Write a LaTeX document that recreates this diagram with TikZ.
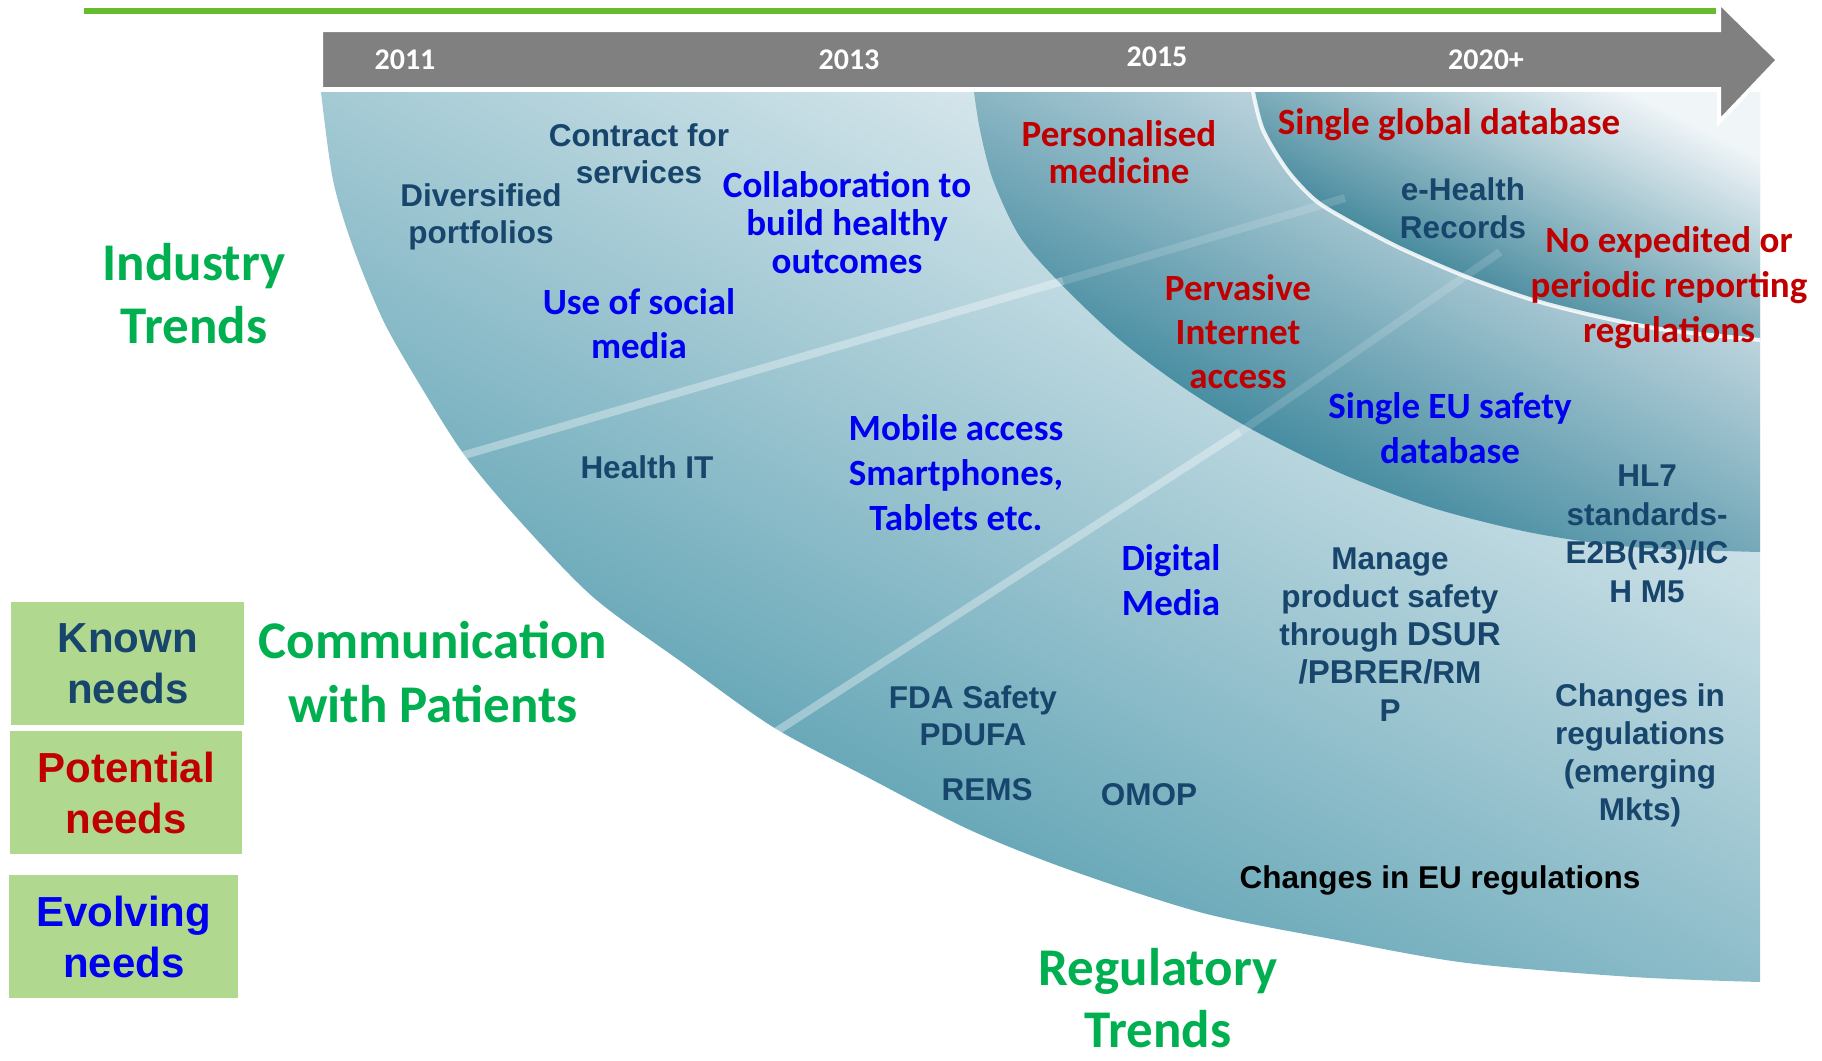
\documentclass[tikz,border=0pt]{standalone}
\usepackage{fontspec}
\setmainfont{Carlito}
\newfontfamily\calfont{Carlito}
\newfontfamily\arifont{Liberation Sans}
\definecolor{txtnavy}{HTML}{17456B}
\definecolor{txtblue}{HTML}{0000F0}
\definecolor{txtred}{HTML}{C00000}
\definecolor{txtgreen}{HTML}{00B050}
\definecolor{topgreen}{HTML}{66BB2E}
\definecolor{barcol}{HTML}{808080}
\definecolor{legfill}{HTML}{B0D88E}
\definecolor{outD}{RGB}{66,146,166}
\definecolor{outM}{RGB}{152,197,208}
\definecolor{outL}{RGB}{240,245,248}
\definecolor{midD}{RGB}{20,110,135}
\definecolor{midM}{RGB}{108,172,189}
\definecolor{midL}{RGB}{235,240,245}
\definecolor{inD}{RGB}{10,100,125}
\definecolor{inM}{RGB}{75,148,168}
\definecolor{inL}{RGB}{240,245,248}
\begin{document}
\begin{tikzpicture}[x=1pt,y=-1pt,
  cal/.style={font=\calfont\bfseries\fontsize{37}{#1}\selectfont, align=center, inner sep=0pt, anchor=base},
  cal/.default=44,
  ari/.style={font=\arifont\bfseries\fontsize{31.5}{#1}\selectfont, align=center, inner sep=0pt, anchor=base, text=txtnavy},
  ari/.default=38,
  ttl/.style={font=\calfont\bfseries\fontsize{53}{#1}\selectfont, align=center, inner sep=0pt, anchor=base, text=txtgreen},
  ttl/.default=63,
  yr/.style={font=\calfont\bfseries\fontsize{30}{36}\selectfont, inner sep=0pt, anchor=base, text=white},
  legbox/.style={fill=legfill, draw=none, font=\arifont\bfseries\fontsize{42}{51}\selectfont, align=center, inner sep=0pt, anchor=north west},
  ray/.style={draw=white, line width=8pt, line cap=butt},
]
\useasboundingbox (0,0) rectangle (1822,1060);

% top green line
\coordinate (gl1) at (84,11);
\coordinate (gl2) at (1716,11);
\draw[topgreen, line width=5.5pt] (gl1) -- (gl2);

% outer fan
\shade[top color=outL, middle color=outM, bottom color=outD, shading angle=-27]
  plot[smooth] coordinates {(321,92) (333,180) (353,247) (383,320) (417,380) (463,453) (517,518) (593,597) (683,663) (773,727) (867,777) (970,830) (1070,870) (1203,913) (1337,940) (1467,963) (1633,977) (1760,982)}
  -- (1760,92) -- cycle;

% middle band
\shade[top color=midL, middle color=midM, bottom color=midD, shading angle=-27]
  plot[smooth] coordinates {(974,92) (980,130) (993,180) (1020,237) (1060,283) (1120,340) (1187,390) (1253,430) (1340,473) (1433,508) (1533,533) (1633,547) (1760,552)}
  -- (1760,92) -- cycle;

% inner band
\shade[top color=inL, middle color=inM, bottom color=inD, shading angle=-27]
  plot[smooth] coordinates {(1253,92) (1263,130) (1287,170) (1315,200) (1347,220) (1400,248) (1467,277) (1533,300) (1600,317) (1667,330) (1760,340)}
  -- (1760,92) -- cycle;
\draw[white, opacity=0.85, line width=4pt]
  plot[smooth] coordinates {(1253,92) (1263,130) (1287,170) (1315,200) (1347,220) (1400,248) (1467,277) (1533,300) (1600,317) (1667,330) (1760,340)};

% light rays
\begin{scope}
\clip plot[smooth] coordinates {(321,92) (333,180) (353,247) (383,320) (417,380) (463,453) (517,518) (593,597) (683,663) (773,727) (867,777) (970,830) (1070,870) (1203,913) (1337,940) (1467,963) (1633,977) (1760,982)}
  -- (1760,92) -- cycle;
\coordinate (r1a) at (430,465);
\coordinate (r1b) at (1063,281);
\coordinate (r1c) at (1345,198);
\coordinate (r2a) at (760,742);
\coordinate (r2b) at (1240,432);
\coordinate (r2c) at (1500,252);
\draw[ray, opacity=0.35] (r1a) -- (r1b);
\draw[ray, opacity=0.15] (r1b) -- (r1c);
\draw[ray, opacity=0.35] (r2a) -- (r2b);
\draw[ray, opacity=0.15] (r2b) -- (r2c);
\end{scope}

% timeline arrow
\draw[fill=barcol, draw=white, line width=4pt, line join=miter]
  (321,30) -- (1719,30) -- (1719,2) -- (1778,60) -- (1719,122) -- (1719,89) -- (321,89) -- cycle;
\node[yr] (y2011) at (405,69) {2011};
\node[yr] (y2013) at (849,69) {2013};
\node[yr] (y2015) at (1157,66) {2015};
\node[yr] (y2020) at (1486,69) {2020+};

% Calibri texts (anchor = baseline of the last line)
\node[cal=38, text=txtblue] (collab) at (847,273) {Collaboration to\\build healthy\\outcomes};
\node[cal=44, text=txtblue] (social) at (639,358) {Use of social\\media};
\node[cal=45, text=txtblue] (mobile) at (956,530) {Mobile access\\Smartphones,\\Tablets etc.};
\node[cal=37, text=txtred] (personal) at (1119,183) {Personalised\\medicine};
\node[cal=44, text=txtred] (pervasive) at (1238,388) {Pervasive\\Internet\\access};
\node[cal, text=txtred] (global) at (1449,134) {Single global database};
\node[cal=45, text=txtred] (noexp) at (1669,342) {No expedited or\\periodic reporting\\regulations};
\node[cal=45, text=txtblue] (singleeu) at (1450,463) {Single EU safety\\database};
\node[cal=45, text=txtblue] (digital) at (1171,615) {Digital\\Media};

% Arial texts
\node[ari=37] (contract) at (639,183) {Contract for\\services};
\node[ari=37] (divers) at (481,243) {Diversified\\portfolios};
\node[ari] (healthit) at (647,478) {Health IT};
\node[ari=38] (ehealth) at (1463,238) {e-Health\\Records};
\node[ari=38.5] (hl7) at (1647,602) {HL7\\standards-\\E2B(R3)/IC\\H M5};
\node[ari=38] (manage) at (1390,721) {Manage\\product safety\\through {\fontsize{33}{38}\selectfont DSUR}\\{\fontsize{33}{38}\selectfont /PBRER/}RM\\P};
\node[ari=37] (fda) at (973,745) {FDA Safety\\PDUFA};
\node[ari] (rems) at (987,800) {REMS};
\node[ari] (omop) at (1149,805) {OMOP};
\node[ari=37.7] (chgem) at (1640,820) {Changes in\\regulations\\(emerging\\Mkts)};
\node[ari, text=black] (chgeu) at (1440,888) {Changes in EU regulations};

% titles
\node[ttl=63] (industry) at (194,343) {Industry\\Trends};
\node[ttl=64] (comm) at (433,722) {Communication\\with Patients};
\node[ttl=62] (regul) at (1158,1047) {Regulatory\\Trends};

% legend
\node[legbox, minimum width=233pt, minimum height=123pt, text=txtnavy] (known) at (11,602) {Known\\needs};
\node[legbox, minimum width=232pt, minimum height=123pt, text=txtred] (potential) at (10,731) {Potential\\needs};
\node[legbox, minimum width=229pt, minimum height=123pt, text=txtblue] (evolving) at (9,875) {Evolving\\needs};
\end{tikzpicture}
\end{document}
